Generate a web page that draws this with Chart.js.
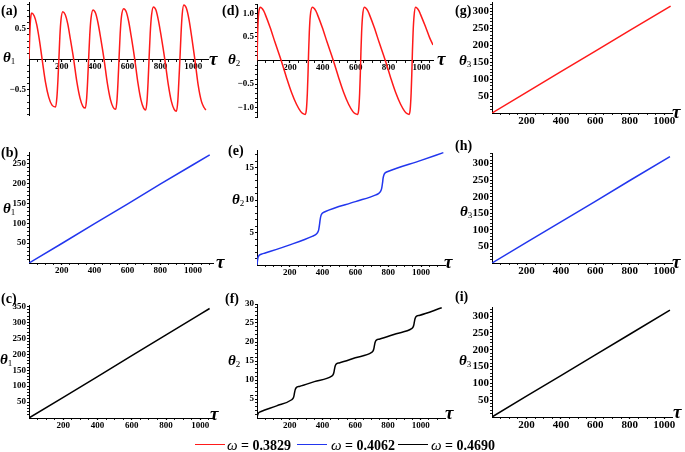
<!DOCTYPE html>
<html><head><meta charset="utf-8">
<script src="https://cdn.jsdelivr.net/npm/chart.js@4.4.0/dist/chart.umd.min.js"></script>
<style>
html,body{margin:0;padding:0;background:#fff;}
#fig{position:relative;width:685px;height:452px;overflow:hidden;background:#fff;font-family:"Liberation Serif","Times New Roman",serif;}
#fig canvas{position:absolute;}
.t{position:absolute;line-height:1;white-space:nowrap;color:#000;z-index:5;}
.lab{font-weight:bold;font-size:14px;}
.th{font-style:italic;font-weight:bold;font-size:15px;}
.th sub{font-style:normal;font-weight:normal;font-size:9px;vertical-align:-2px;line-height:1;}
.tau{font-style:italic;font-weight:bold;font-size:19px;}
.leg{font-size:14px;font-weight:bold;}
.leg i{font-size:15px;font-weight:normal;}
.ln{position:absolute;height:0;border-top:1.6px solid;z-index:5;}
</style></head><body><div id="fig"></div>
<script>
// ---------- data ----------
const xMajorTicks = [200, 400, 600, 800, 1000];
const omegaValues = ['0.3829', '0.4062', '0.4690'];
const seriesColors = ['#ff1a1a', '#2236ee', '#000000'];

// (a) theta1, omega = 0.3829
const tauA = [0, 4, 8, 12, 17, 32, 47, 62, 80, 100, 120, 140, 162, 170, 176, 182, 188, 195, 206, 221, 236, 252, 272, 292, 311, 328, 343, 351, 357, 363, 370, 378, 390, 405, 420, 437, 457, 477, 496, 513, 528, 536, 542, 548, 555, 563, 577, 592, 607, 624, 644, 664, 682, 698, 711, 719, 725, 731, 738, 746, 758, 773, 788, 806, 827, 848, 867, 884, 898, 906, 912, 919, 926, 933, 943, 958, 973, 990, 1010, 1030, 1050, 1066, 1077];
const thetaA = [0, 0.35, 0.6, 0.72, 0.76, 0.71, 0.57, 0.34, 0, -0.37, -0.62, -0.75, -0.78, -0.62, -0.35, 0, 0.38, 0.65, 0.78, 0.73, 0.58, 0.33, 0, -0.38, -0.64, -0.77, -0.80, -0.64, -0.36, 0, 0.4, 0.68, 0.81, 0.76, 0.6, 0.34, 0, -0.39, -0.66, -0.79, -0.82, -0.66, -0.37, 0, 0.41, 0.7, 0.83, 0.78, 0.62, 0.35, 0, -0.4, -0.67, -0.8, -0.83, -0.67, -0.38, 0, 0.42, 0.72, 0.86, 0.81, 0.64, 0.36, 0, -0.41, -0.69, -0.82, -0.85, -0.69, -0.39, 0, 0.43, 0.74, 0.89, 0.84, 0.67, 0.38, 0, -0.42, -0.69, -0.79, -0.83];

// (d) theta2, omega = 0.3829
const tauD = [0, 2, 4, 7, 10, 14, 20, 40, 50, 80, 110, 147, 180, 210, 240, 265, 280, 293, 300, 306, 310, 314, 318, 324, 337, 357, 367, 397, 427, 464, 497, 527, 557, 582, 597, 612, 618, 624, 628, 632, 636, 642, 653, 673, 683, 713, 743, 780, 813, 843, 873, 898, 913, 925, 931, 937, 941, 945, 949, 955, 964, 984, 994, 1024, 1050, 1070];
const thetaD = [0, 0.3, 0.58, 0.85, 1.0, 1.09, 1.13, 1.06, 0.98, 0.70, 0.38, 0, -0.37, -0.68, -0.93, -1.08, -1.13, -1.145, -1.05, -0.7, -0.3, 0.2, 0.6, 0.95, 1.13, 1.06, 0.98, 0.70, 0.38, 0, -0.37, -0.68, -0.93, -1.08, -1.13, -1.145, -1.05, -0.7, -0.3, 0.2, 0.6, 0.95, 1.13, 1.06, 0.98, 0.70, 0.38, 0, -0.37, -0.68, -0.93, -1.08, -1.13, -1.145, -1.05, -0.7, -0.3, 0.2, 0.6, 0.95, 1.13, 1.06, 0.98, 0.72, 0.48, 0.33];

// (g) theta3, omega = 0.3829
const tauG = [0, 200, 400, 600, 800, 1037];
const thetaG = [0, 61, 122, 183, 244, 316];

// (b) theta1, omega = 0.4062
const tauB = [0, 200, 400, 600, 800, 1000, 1102];
const thetaB = [0, 49, 99, 148, 198, 247, 272];

// (e) theta2, omega = 0.4062
const tauE = [0, 3, 6, 12, 25, 50, 200, 340, 355, 368, 376, 381, 385, 390, 398, 414, 600, 725, 740, 752, 760, 765, 769, 774, 782, 798, 1000, 1136];
const thetaE = [0, 0.7, 1.15, 1.45, 1.65, 1.85, 3.1, 4.45, 4.65, 4.95, 5.4, 6.2, 7.0, 7.6, 7.95, 8.2, 9.75, 10.8, 11.0, 11.3, 11.8, 12.6, 13.4, 13.9, 14.2, 14.4, 16.1, 17.3];

// (h) theta3, omega = 0.4062
const tauH = [0, 200, 400, 600, 800, 1033];
const thetaH = [0, 62, 124, 186, 249, 321];

// (c) theta1, omega = 0.4690
const tauC = [0, 200, 400, 600, 800, 1000, 1054];
const thetaC = [0, 65, 130, 196, 261, 326, 344];

// (f) theta2, omega = 0.4690
const tauF = [0, 3, 6, 12, 25, 120, 212, 220, 225, 229, 233, 238, 246, 258, 350, 456, 464, 469, 473, 477, 482, 490, 502, 600, 700, 708, 713, 717, 721, 726, 734, 746, 850, 944, 952, 957, 961, 965, 970, 978, 990, 1128];
const thetaF = [0, 0.7, 1.1, 1.45, 1.7, 3.2, 4.8, 5.15, 5.7, 6.6, 7.4, 7.9, 8.2, 8.3, 9.57, 11.0, 11.35, 11.9, 12.8, 13.6, 14.1, 14.4, 14.5, 15.85, 17.25, 17.6, 18.15, 19.05, 19.85, 20.35, 20.65, 20.75, 22.19, 23.5, 23.85, 24.4, 25.3, 26.1, 26.6, 26.9, 27.0, 29.0];

// (i) theta3, omega = 0.4690
const tauI = [0, 200, 400, 600, 800, 1033];
const thetaI = [0, 62, 123, 185, 246, 318];

// ---------- layout ----------
const fig = document.getElementById('fig');
const panelSpecs = [
  {tag:'(a)', tau:tauA, theta:thetaA, color:0, box:[29,2,208,115], xmax:1090, ymin:-0.913, ymax:0.94, center:true, yMajor:0.5, yMinor:0.1, dec:1, font:9, yw:28, smooth:true},
  {tag:'(d)', tau:tauD, theta:thetaD, color:0, box:[257,4,433,117], xmax:1070, ymin:-1.2, ymax:1.2, center:true, yMajor:0.5, yMinor:0.1, dec:1, font:9, yw:28, smooth:true},
  {tag:'(g)', tau:tauG, theta:thetaG, color:0, box:[492,2,672,113], xmax:1045, ymin:0, ymax:328, yMajor:50, yMinor:10, dec:0, font:11, yw:32},
  {tag:'(b)', tau:tauB, theta:thetaB, color:1, box:[29,152,213,263], xmax:1122, ymin:0, ymax:279, yMajor:50, yMinor:10, dec:0, font:9, yw:28},
  {tag:'(e)', tau:tauE, theta:thetaE, color:1, box:[257,150,445,265], xmax:1146, ymin:0, ymax:17.7, yMajor:5, yMinor:1, dec:0, font:9, yw:28, smooth:true},
  {tag:'(h)', tau:tauH, theta:thetaH, color:1, box:[492,153,672,263], xmax:1045, ymin:0, ymax:332, yMajor:50, yMinor:10, dec:0, font:11, yw:32},
  {tag:'(c)', tau:tauC, theta:thetaC, color:2, box:[29,305,212,418], xmax:1068, ymin:0, ymax:355, yMajor:50, yMinor:10, dec:0, font:9, yw:28},
  {tag:'(f)', tau:tauF, theta:thetaF, color:2, box:[257,304,445,418], xmax:1148, ymin:0, ymax:30, yMajor:5, yMinor:1, dec:0, font:9, yw:28, smooth:true},
  {tag:'(i)', tau:tauI, theta:thetaI, color:2, box:[492,307,672,417], xmax:1045, ymin:0, ymax:327, yMajor:50, yMinor:10, dec:0, font:11, yw:32}
];

function tickValues(min, max, step) {
  const out = [];
  const k0 = Math.ceil(min / step - 1e-9), k1 = Math.floor(max / step + 1e-9);
  for (let k = k0; k <= k1; k++) if (k !== 0) out.push(Number((k * step).toFixed(6)));
  return out;
}
function isMajor(v, major) { const r = v / major; return Math.abs(r - Math.round(r)) < 1e-6; }
function fmt(v, dec) { const s = Math.abs(v).toFixed(dec); return v < 0 ? '\u2212' + s : s; }

panelSpecs.forEach(p => {
  const [L, T, R, B] = p.box;
  const YW = p.yw, PT = 8, PR = 8, XH = p.center ? 0 : 18, PB = p.center ? 8 : 0;
  const w = R - L + YW + PR, h = B - T + PT + XH + PB;
  const cv = document.createElement('canvas');
  cv.width = w; cv.height = h;
  cv.style.left = (L - YW) + 'px'; cv.style.top = (T - PT) + 'px';
  cv.style.width = w + 'px'; cv.style.height = h + 'px';
  fig.appendChild(cv);
  const pts = p.tau.map((t, i) => ({x: t, y: p.theta[i]}));
  const font = {family: 'Liberation Serif', size: p.font, weight: 'bold'};
  new Chart(cv, {
    type: 'line',
    data: {datasets: [{data: pts, borderColor: seriesColors[p.color], borderWidth: 1.5, pointRadius: 0, fill: false,
      cubicInterpolationMode: p.smooth ? 'monotone' : 'default', tension: 0}]},
    options: {
      responsive: false, animation: false, events: [],
      layout: {padding: {left: 0, top: PT, right: PR, bottom: PB}},
      plugins: {legend: {display: false}, tooltip: {enabled: false}},
      scales: {
        x: {type: 'linear', min: 0, max: p.xmax, bounds: 'data',
          position: p.center ? {y: 0} : 'bottom',
          afterFit: s => { s.height = XH; },
          afterBuildTicks: s => { s.ticks = tickValues(0, p.xmax, 50).map(v => ({value: v})); },
          ticks: {autoSkip: false, maxRotation: 0, minRotation: 0, padding: 0, color: '#000', font,
            callback: v => xMajorTicks.includes(v) ? String(v) : ''},
          grid: {display: true, drawOnChartArea: false, drawTicks: true, tickLength: 2, tickColor: '#000',
            tickWidth: c => (c.tick && isMajor(c.tick.value, 200)) ? 1.2 : 0.9},
          border: {display: true, color: '#000', width: 1}},
        y: {type: 'linear', min: p.ymin, max: p.ymax, bounds: 'data',
          afterFit: s => { s.width = YW; },
          afterBuildTicks: s => { s.ticks = tickValues(p.ymin, p.ymax, p.yMinor).map(v => ({value: v})); },
          ticks: {autoSkip: false, padding: 1, color: '#000', font,
            callback: v => isMajor(v, p.yMajor) ? fmt(v, p.dec) : ''},
          grid: {display: true, drawOnChartArea: false, drawTicks: true, tickLength: 2, tickColor: '#000',
            tickWidth: c => (c.tick && isMajor(c.tick.value, p.yMajor)) ? 1.2 : 0.9},
          border: {display: true, color: '#000', width: 1}}
      }
    }
  });
});

// ---------- text labels ----------
function put(html, cls, x, baseline, size) {
  const d = document.createElement('div');
  d.className = 't ' + cls;
  d.innerHTML = html;
  d.style.left = x + 'px';
  d.style.top = (baseline - 0.8375 * size) + 'px';
  fig.appendChild(d);
}
const tagPos = [[1,15.5],[222,15.5],[455,15.5],[1,158],[228,156],[455,151],[1,304],[225,304],[455,302]];
panelSpecs.forEach((p, i) => put(p.tag, 'lab', tagPos[i][0], tagPos[i][1], 14));
const thetaPos = [[3,63,1],[228,65,2],[459,66,3],[3,214,1],[232,205,2],[460,217,3],[0,365,1],[228,366,2],[459,366,3]];
thetaPos.forEach(q => put('θ<sub>' + q[2] + '</sub>', 'th', q[0], q[1], 15));
const tauPos = [[209,65],[437,65],[672,118],[216,268],[444,268],[672,268],[210,420],[445,419],[673,418]];
tauPos.forEach(q => put('τ', 'tau', q[0], q[1], 19));

// ---------- legend ----------
const legLines = [195, 297, 398];
const legText = [227, 331, 431];
omegaValues.forEach((v, i) => {
  const l = document.createElement('div');
  l.className = 'ln';
  l.style.left = legLines[i] + 'px'; l.style.width = '30px'; l.style.top = '443.5px';
  l.style.borderTopColor = seriesColors[i];
  fig.appendChild(l);
  put('<i>ω</i> = ' + v, 'leg', legText[i], 449.3, 14);
});
</script></body></html>
